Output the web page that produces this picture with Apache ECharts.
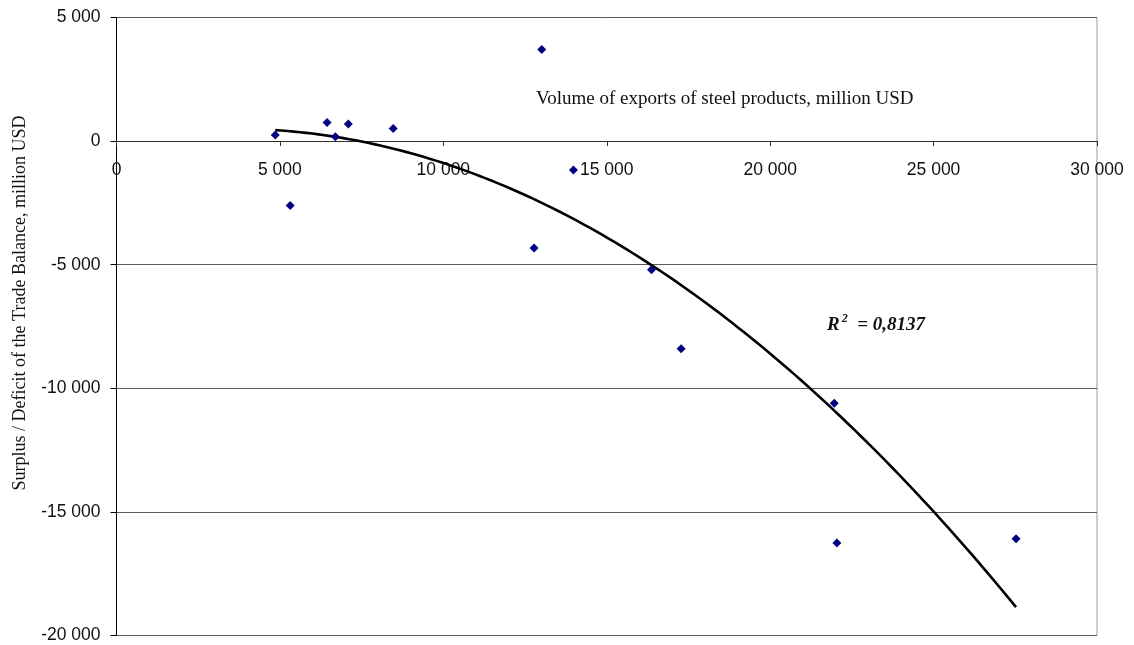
<!DOCTYPE html>
<html>
<head>
<meta charset="utf-8">
<style>
  html, body { margin: 0; padding: 0; background: #fff; }
  #chart { width: 1134px; height: 645px; }
</style>
<script src="https://cdn.jsdelivr.net/npm/echarts@6/dist/echarts.min.js"></script>
</head>
<body>
<div id="chart"></div>
<script>
// Steel exports (million USD) against trade balance surplus/deficit (million USD)
const exportsVolume = [4857, 5314, 6443, 6696, 7093, 8466, 13011, 13981, 12777, 16370, 17275, 21960, 22041, 27523];
const tradeBalance  = [243, -2601, 756, 174, 688, 514, 3710, -1173, -4328, -5206, -8402, -10600, -16262, -16088];
const xTicks = [0, 5000, 10000, 15000, 20000, 25000, 30000];
const yTicks = [-20000, -15000, -10000, -5000, 0, 5000];
const rSquaredText = '0,8137';

const points = exportsVolume.map((x, i) => [x, tradeBalance[i]]);

// Second-order polynomial least-squares trend through the points
function quadFit(xs, ys) {
  const n = xs.length;
  let s = [0, 0, 0, 0, 0], t = [0, 0, 0];
  for (let i = 0; i < n; i++) {
    let p = 1;
    for (let k = 0; k < 5; k++) { s[k] += p; if (k < 3) t[k] += p * ys[i]; p *= xs[i]; }
  }
  const M = [[s[0], s[1], s[2], t[0]], [s[1], s[2], s[3], t[1]], [s[2], s[3], s[4], t[2]]];
  for (let c = 0; c < 3; c++) {
    for (let r = c + 1; r < 3; r++) {
      const f = M[r][c] / M[c][c];
      for (let k = c; k < 4; k++) M[r][k] -= f * M[c][k];
    }
  }
  const coef = [0, 0, 0];
  for (let r = 2; r >= 0; r--) {
    let v = M[r][3];
    for (let k = r + 1; k < 3; k++) v -= M[r][k] * coef[k];
    coef[r] = v / M[r][r];
  }
  return coef;
}
const coef = quadFit(exportsVolume, tradeBalance);
const xMin = Math.min(...exportsVolume), xMax = Math.max(...exportsVolume);
const trend = [];
for (let i = 0; i <= 120; i++) {
  const x = xMin + (xMax - xMin) * i / 120;
  trend.push([x, coef[0] + coef[1] * x + coef[2] * x * x]);
}

const fmt = v => {
  const s = Math.abs(v).toString().replace(/\B(?=(\d{3})+(?!\d))/g, ' ');
  return (v < 0 ? '-' : '') + s;
};

// Plot box, and the lift that puts the category axis on the zero line
const W = 1134, H = 645;
const gridBox = { left: 116.5, top: 17.5, right: 37, bottom: 9.5 };
const plotH = H - gridBox.top - gridBox.bottom;
const yLo = yTicks[0], yHi = yTicks[yTicks.length - 1];
const zeroLift = -plotH * (0 - yLo) / (yHi - yLo);

const chart = echarts.init(document.getElementById('chart'), null, { renderer: 'canvas' });
chart.setOption({
  backgroundColor: '#ffffff',
  animation: false,
  grid: Object.assign({}, gridBox, {
    outerBoundsMode: 'none', containLabel: false,
    show: true, borderColor: '#9a9a9a', borderWidth: 1
  }),
  xAxis: {
    type: 'value', min: xTicks[0], max: xTicks[xTicks.length - 1], interval: 5000,
    position: 'bottom', offset: zeroLift,
    axisLine: { show: true, onZero: false, lineStyle: { color: '#303030', width: 1 } },
    axisTick: { show: true, inside: false, length: 5, lineStyle: { color: '#303030' } },
    axisLabel: { margin: 20, color: '#111', fontFamily: 'Liberation Sans, Arial', fontSize: 17.5, formatter: fmt },
    splitLine: { show: false }
  },
  yAxis: {
    type: 'value', min: yLo, max: yHi, interval: 5000,
    axisLine: { show: true, onZero: false, lineStyle: { color: '#000', width: 1 } },
    axisTick: { show: true, inside: false, length: 6, lineStyle: { color: '#000' } },
    axisLabel: { margin: 16, color: '#111', fontFamily: 'Liberation Sans, Arial', fontSize: 17.5, formatter: fmt },
    splitLine: { show: true, lineStyle: { color: '#5a5a5a', width: 1 } }
  },
  series: [
    {
      name: 'Trend', type: 'line', data: trend, showSymbol: false, smooth: false,
      lineStyle: { color: '#000', width: 2.6 }, z: 3, silent: true
    },
    {
      name: 'Balance', type: 'scatter', data: points, symbol: 'diamond', symbolSize: 9,
      itemStyle: { color: '#000080', opacity: 1 }, z: 4
    }
  ],
  graphic: [
    {
      type: 'text', left: 536, top: 90,
      style: { text: 'Volume of exports of steel products, million USD', fill: '#111',
               font: '19px "Liberation Serif", "Times New Roman", serif' }
    },
    {
      type: 'text', x: 20, y: 303, rotation: Math.PI / 2,
      style: { text: 'Surplus / Deficit of the Trade Balance, million USD', fill: '#111',
               font: '18px "Liberation Serif", "Times New Roman", serif',
               align: 'center', verticalAlign: 'middle' }
    },
    {
      type: 'text', left: 827, top: 313,
      style: {
        text: '{r|R}{s|2}{r|  = ' + rSquaredText + '}',
        rich: {
          r: { font: 'italic bold 19px "Liberation Serif", "Times New Roman", serif', fill: '#111', verticalAlign: 'bottom' },
          s: { font: 'italic bold 12px "Liberation Serif", "Times New Roman", serif', fill: '#111', padding: [0, 0, 10, 2], verticalAlign: 'bottom' }
        }
      }
    }
  ]
});
</script>
</body>
</html>
